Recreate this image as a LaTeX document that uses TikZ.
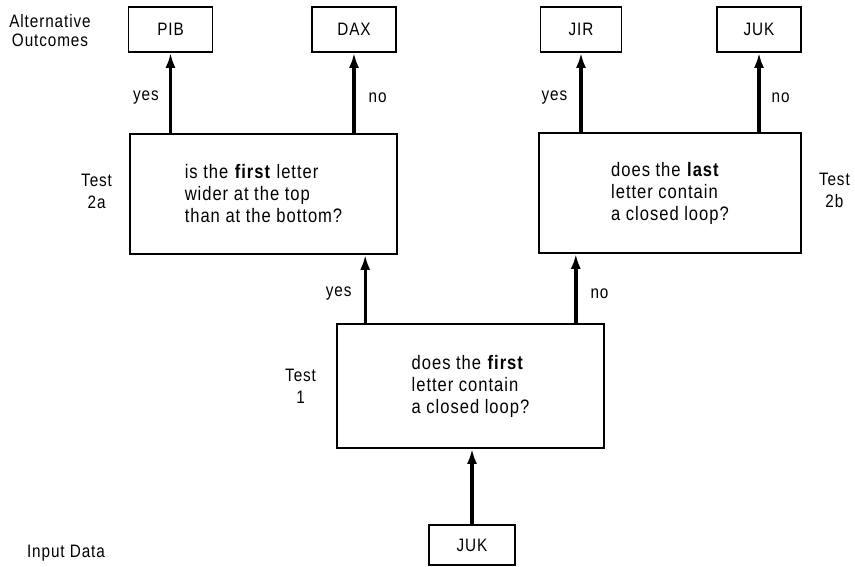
\documentclass[tikz,border=0pt]{standalone}
\usepackage{fontspec}
\setmainfont{Liberation Sans}[FakeStretch=0.85, LetterSpace=5.0]
\usetikzlibrary{positioning, arrows.meta}

\begin{document}
\begin{tikzpicture}[
    x=1pt, y=-1pt,
    font=\fontsize{18}{22}\selectfont,
    >={Latex[length=15pt, width=10pt]},
    node distance=17pt,
    box/.style={
        draw=black, line width=1.6pt,
        rectangle, inner sep=2pt
    },
    outcome/.style={box, minimum width=84pt, minimum height=45pt},
    test/.style={box, minimum width=267pt, minimum height=120pt, align=left, font=\fontsize{19.5}{22}\selectfont},
    arrow/.style={->, line width=3.4pt, draw=black},
    side/.style={align=center, inner sep=0pt},
    answer/.style={midway, inner sep=0pt, yshift=-5pt}
]
\useasboundingbox (0,0) rectangle (855,567);

% Outcomes
\node[outcome] (pib) at (170.5,29.5) {PIB};
\node[outcome] (dax) at (354,29.5) {DAX};
\node[outcome, minimum width=81pt] (jir) at (581,29.5) {JIR};
\node[outcome] (juk) at (759,29.5) {JUK};

% Tests
\node[test] (t2a) at (263.5,194) {is the \textbf{first} letter\\wider at the top\\than at the bottom?};
\node[test, minimum width=262pt] (t2b) at (670,193) {does the \textbf{last}\\letter contain\\a closed loop?};
\node[test, minimum height=124pt] (t1) at (470.5,386) {does the \textbf{first}\\letter contain\\a closed loop?};

% Input
\node[outcome, minimum width=86pt, minimum height=40pt] (input) at (472,545) {JUK};

% Side labels
\node[side, font=\fontsize{18}{19}\selectfont] (altlbl) at (50,31) {Alternative\\Outcomes};
\node[side, left=17pt of t2a, yshift=3pt] (lbl2a) {Test\\2a};
\node[side, right=17pt of t2b, yshift=3pt] (lbl2b) {Test\\2b};
\node[side, left=20pt of t1] (lbl1) {Test\\1};
\node[side] (inlbl) at (66,553) {Input Data};

% Arrows
\draw[arrow] (input.north) -- (input |- t1.south);
\draw[arrow] ([xshift=29pt]t1.north west) -- node[answer, left=12pt] {yes} ([xshift=29pt]t1.north west |- t2a.south);
\draw[arrow] ([xshift=-29pt]t1.north east) -- node[answer, right=13pt] {no} ([xshift=-29pt]t1.north east |- t2b.south);
\draw[arrow] (pib |- t2a.north) -- node[answer, left=10pt] {yes} (pib.south);
\draw[arrow] (dax |- t2a.north) -- node[answer, right=13pt] {no} (dax.south);
\draw[arrow] (jir |- t2b.north) -- node[answer, left=12pt] {yes} (jir.south);
\draw[arrow] (juk |- t2b.north) -- node[answer, right=11pt] {no} (juk.south);

\end{tikzpicture}
\end{document}
